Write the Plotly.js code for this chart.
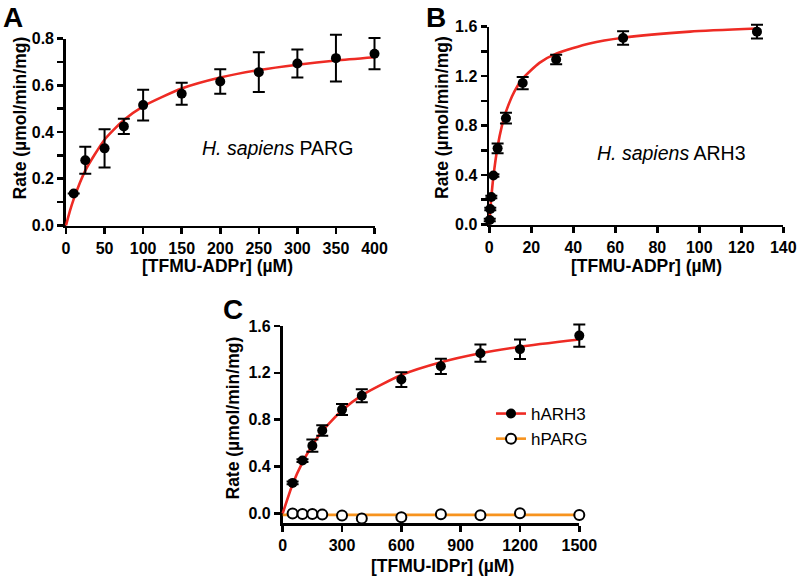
<!DOCTYPE html>
<html>
<head>
<meta charset="utf-8">
<script src="https://cdn.plot.ly/plotly-3.0.1.min.js"></script>
<style>html,body{margin:0;padding:0;background:#fff;}#chart{width:800px;height:581px;}</style>
</head>
<body>
<div id="chart"></div>
<script>
// Panel A: H. sapiens PARG, TFMU-ADPr
const a_x   = [10, 25, 50, 75, 100, 150, 200, 250, 300, 350, 400];
const a_y   = [0.137, 0.279, 0.330, 0.424, 0.515, 0.564, 0.616, 0.656, 0.693, 0.716, 0.735];
const a_err = [0, 0.058, 0.082, 0.033, 0.066, 0.047, 0.052, 0.085, 0.060, 0.100, 0.067];
const a_fit_x = [0, 5, 10, 25, 50, 75, 100, 150, 200, 250, 300, 350, 400];
const a_fit_y = [0, 0.061, 0.113, 0.235, 0.367, 0.451, 0.510, 0.586, 0.633, 0.665, 0.688, 0.706, 0.720];

// Panel B: H. sapiens ARH3, TFMU-ADPr
const b_x   = [0.25, 0.5, 1, 2, 4, 8, 16, 32, 64, 128];
const b_y   = [0.037, 0.126, 0.222, 0.397, 0.616, 0.860, 1.144, 1.335, 1.509, 1.560];
const b_err = [0.01, 0.01, 0.01, 0.01, 0.040, 0.043, 0.050, 0.038, 0.055, 0.055];
const b_fit_x = [0, 0.5, 1, 2, 4, 6, 8, 12, 16, 24, 32, 48, 64, 96, 128];
const b_fit_y = [0, 0.117, 0.219, 0.388, 0.629, 0.794, 0.913, 1.075, 1.180, 1.307, 1.382, 1.465, 1.511, 1.560, 1.585];

// Panel C: TFMU-IDPr, hARH3 vs hPARG
const c_x        = [50, 100, 150, 200, 300, 400, 600, 800, 1000, 1200, 1500];
const c_arh3     = [0.260, 0.451, 0.578, 0.708, 0.886, 1.004, 1.143, 1.256, 1.368, 1.402, 1.518];
const c_arh3_err = [0.012, 0.012, 0.052, 0.045, 0.047, 0.055, 0.063, 0.065, 0.073, 0.083, 0.095];
const c_parg     = [-0.002, -0.006, -0.006, -0.010, -0.018, -0.043, -0.034, -0.008, -0.017, 0.000, -0.014];
const c_fit_x    = [0, 50, 100, 150, 200, 300, 400, 600, 800, 1000, 1200, 1500];
const c_fit_y    = [0, 0.249, 0.436, 0.582, 0.702, 0.880, 1.008, 1.181, 1.290, 1.367, 1.423, 1.484];
const c_parg_fit_x = [0, 1500];
const c_parg_fit_y = [-0.013, -0.013];

const seriesNames = ['hARH3', 'hPARG'];
const xTitles = ['[TFMU-ADPr] (µM)', '[TFMU-ADPr] (µM)', '[TFMU-IDPr] (µM)'];
const yTitle = 'Rate (µmol/min/mg)';
const panelLetters = ['A', 'B', 'C'];
const insetLabels = ['<i>H. sapiens</i> PARG', '<i>H. sapiens</i> ARH3'];

const RED = '#ee2b24', ORANGE = '#f7931e', FONT = 'Liberation Sans, Arial, Helvetica, sans-serif';

function px(x) { return x / 800; }
function py(y) { return 1 - y / 581; }

// Panel geometry (pixels) and axis ranges
const P = {
  A: {x: [66, 374.5], y: [38.5, 225.5], xr: [0, 400], yr: [0, 0.8]},
  B: {x: [489.3, 783.3], y: [26.7, 224.5], xr: [0, 140], yr: [0, 1.6]},
  C: {x: [282.7, 579.3], y: [326, 523.3], xr: [0, 1500], yr: [-0.085, 1.6]}
};

function fitLine(x, y, xa, ya, color) {
  return {x: x, y: y, xaxis: xa, yaxis: ya, mode: 'lines', line: {color: color, width: 2.6, shape: 'spline', smoothing: 0.6},
          showlegend: false, cliponaxis: false, hoverinfo: 'skip'};
}
function points(x, y, err, xa, ya) {
  return {x: x, y: y, xaxis: xa, yaxis: ya, mode: 'markers', showlegend: false, cliponaxis: false,
          marker: {color: 'black', size: 10},
          error_y: {type: 'data', array: err, visible: true, color: 'black', thickness: 2, width: 6}};
}
function empty(xa, ya) { return {x: [], y: [], xaxis: xa, yaxis: ya, mode: 'markers', showlegend: false}; }

const traces = [
  empty('x', 'y'), empty('x2', 'y2'), empty('x3', 'y3'),
  fitLine(a_fit_x, a_fit_y, 'x4', 'y4', RED),
  points(a_x, a_y, a_err, 'x4', 'y4'),
  fitLine(b_fit_x, b_fit_y, 'x5', 'y5', RED),
  points(b_x, b_y, b_err, 'x5', 'y5'),
  fitLine(c_parg_fit_x, c_parg_fit_y, 'x6', 'y6', ORANGE),
  fitLine(c_fit_x, c_fit_y, 'x6', 'y6', RED),
  points(c_x, c_arh3, c_arh3_err, 'x6', 'y6'),
  {x: c_x, y: c_parg, xaxis: 'x6', yaxis: 'y6', mode: 'markers', showlegend: false, cliponaxis: false,
   marker: {color: 'white', size: 10, line: {color: 'black', width: 2}}},
  // legend entries
  {x: [null], y: [null], xaxis: 'x6', yaxis: 'y6', mode: 'lines+markers', name: seriesNames[0],
   line: {color: RED, width: 2.6}, marker: {color: 'black', size: 10}},
  {x: [null], y: [null], xaxis: 'x6', yaxis: 'y6', mode: 'lines+markers', name: seriesNames[1],
   line: {color: ORANGE, width: 2.6}, marker: {color: 'white', size: 10, line: {color: 'black', width: 2}}}
];

function axis(extra) {
  return Object.assign({
    showline: true, linecolor: 'black', linewidth: 2.8, showgrid: false, zeroline: false,
    ticks: 'outside', ticklen: 6, tickwidth: 2.6, tickcolor: 'black',
    tickfont: {family: FONT, size: 16, color: 'black', weight: 'bold'}, fixedrange: true
  }, extra);
}
const minorY = (d) => ({dtick: d, ticks: 'outside', ticklen: 6, tickwidth: 2.6, tickcolor: 'black'});

// invisible data axes with the same scale as the visible ones, padded so marks are not clipped
const PAD = 18;
function overX(p, anchor) {
  const k = (p.xr[1] - p.xr[0]) / (p.x[1] - p.x[0]);
  return {domain: [px(p.x[0] - PAD), px(p.x[1] + PAD)], range: [p.xr[0] - PAD * k, p.xr[1] + PAD * k],
          visible: false, showgrid: false, zeroline: false, fixedrange: true, anchor: anchor};
}
function overY(p, anchor) {
  const k = (p.yr[1] - p.yr[0]) / (p.y[1] - p.y[0]);
  return {domain: [py(p.y[1] + PAD), py(p.y[0] - PAD)], range: [p.yr[0] - PAD * k, p.yr[1] + PAD * k],
          visible: false, showgrid: false, zeroline: false, fixedrange: true, anchor: anchor};
}

const annotations = [];
function txt(text, x, y, size, opts) {
  annotations.push(Object.assign({text: text, x: px(x), y: py(y), xref: 'paper', yref: 'paper', showarrow: false,
    xanchor: 'center', yanchor: 'middle', font: {family: FONT, size: size, color: 'black'}}, opts || {}));
}
txt('<b>' + yTitle + '</b>', 19.5, 118, 17.5, {textangle: -90});
txt('<b>' + yTitle + '</b>', 442, 118, 17.5, {textangle: -90});
txt('<b>' + yTitle + '</b>', 232.5, 418, 17.5, {textangle: -90});
txt('<b>' + xTitles[0] + '</b>', 217.5, 266, 17.5);
txt('<b>' + xTitles[1] + '</b>', 646.7, 266, 17.5);
txt('<b>' + xTitles[2] + '</b>', 442.5, 566, 17.5);
txt('<b>' + panelLetters[0] + '</b>', 12.5, 0, 28, {yanchor: 'top'});
txt('<b>' + panelLetters[1] + '</b>', 436, 0, 28, {yanchor: 'top'});
txt('<b>' + panelLetters[2] + '</b>', 233, 309, 28);
txt(insetLabels[0], 277.4, 148, 19.5);
txt(insetLabels[1], 671.7, 153.5, 19.5);

const layout = {
  width: 800, height: 581, margin: {l: 0, r: 0, t: 0, b: 0},
  paper_bgcolor: 'white', plot_bgcolor: 'rgba(0,0,0,0)', font: {family: FONT, color: 'black'},
  showlegend: true,
  legend: {x: px(491), xanchor: 'left', y: py(396), yanchor: 'top', bgcolor: 'rgba(0,0,0,0)',
           font: {family: FONT, size: 17, color: 'black'}, itemwidth: 30, tracegroupgap: 0},
  xaxis:  axis({domain: [px(P.A.x[0]), px(P.A.x[1])], range: P.A.xr, dtick: 50, tick0: 0, anchor: 'y'}),
  yaxis:  axis({domain: [py(P.A.y[1]), py(P.A.y[0])], range: P.A.yr, dtick: 0.2, tick0: 0, tickformat: '.1f', anchor: 'x', minor: minorY(0.1)}),
  xaxis2: axis({domain: [px(P.B.x[0]), px(P.B.x[1])], range: P.B.xr, dtick: 20, tick0: 0, anchor: 'y2'}),
  yaxis2: axis({domain: [py(P.B.y[1]), py(P.B.y[0])], range: P.B.yr, dtick: 0.4, tick0: 0, tickformat: '.1f', anchor: 'x2', minor: minorY(0.2)}),
  xaxis3: axis({domain: [px(P.C.x[0]), px(P.C.x[1])], range: P.C.xr, dtick: 300, tick0: 0, anchor: 'y3'}),
  yaxis3: axis({domain: [py(P.C.y[1]), py(P.C.y[0])], range: P.C.yr, dtick: 0.4, tick0: 0, tickformat: '.1f', anchor: 'x3'}),
  xaxis4: overX(P.A, 'y4'), yaxis4: overY(P.A, 'x4'),
  xaxis5: overX(P.B, 'y5'), yaxis5: overY(P.B, 'x5'),
  xaxis6: overX(P.C, 'y6'), yaxis6: overY(P.C, 'x6'),
  annotations: annotations
};

Plotly.newPlot('chart', traces, layout, {displayModeBar: false, staticPlot: true});
</script>
</body>
</html>
